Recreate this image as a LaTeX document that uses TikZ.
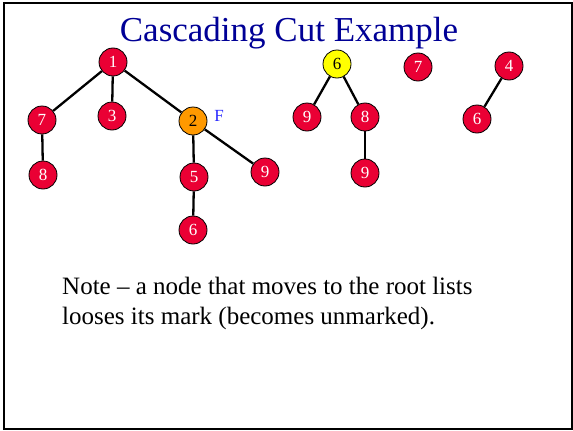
\documentclass[tikz,border=0pt]{standalone}
\usepackage{fontspec}
\setmainfont{Liberation Serif}
\usepackage{tikz}
\usetikzlibrary{positioning}
\usepackage{xcolor}
\definecolor{heapred}{RGB}{234,0,52}
\definecolor{markorange}{RGB}{255,153,0}
\definecolor{minyellow}{RGB}{255,255,0}
\definecolor{titleblue}{RGB}{0,0,150}
\definecolor{markblue}{RGB}{40,40,255}

\tikzset{
  heapnode/.style={circle,draw=black,line width=0.8pt,fill=heapred,text=white,
    minimum size=28pt,inner sep=0pt,font=\fontsize{17}{17}\selectfont},
  marked/.style={heapnode,fill=markorange,text=black},
  minnode/.style={heapnode,fill=minyellow,text=black},
  link/.style={line width=2.3pt,black}
}

\begin{document}
\begin{tikzpicture}[x=1pt,y=-1pt]
        \useasboundingbox (0,0) rectangle (573,431);
        \draw[line width=2pt] (4,3) rectangle (572,429);
        \node[titleblue,font=\fontsize{35}{35}\selectfont] (title) at (289,33) {Cascading Cut Example};
        % first tree
        \node[heapnode] (a1) at (113,62) {1};
        \node[heapnode] (a7) at (42,120) {7};
        \node[heapnode] (a3) at (112,116) {3};
        \node[marked] (a2) at (193,121) {2};
        \node[markblue,font=\fontsize{17}{17}\selectfont] (flag) at (219,116) {F};
        \node[heapnode] (a8) at (43,175) {8};
        \node[heapnode] (a5) at (194,177) {5};
        \node[heapnode] (a9) at (265,172) {9};
        \node[heapnode] (a6) at (193,230) {6};
        \draw[link] (a1)--(a7);
        \draw[link] (a1)--(a3);
        \draw[link] (a1)--(a2);
        \draw[link] (a7)--(a8);
        \draw[link] (a2)--(a5);
        \draw[link] (a2)--(a9);
        \draw[link] (a5)--(a6);
        % second tree, the min
        \node[minnode] (b6) at (337,64) {6};
        \node[heapnode] (b9) at (307,117) {9};
        \node[heapnode] (b8) at (365,117) {8};
        \node[heapnode] (c9) at (365,173) {9};
        \draw[link] (b6)--(b9);
        \draw[link] (b6)--(b8);
        \draw[link] (b8)--(c9);
        % cut nodes
        \node[heapnode] (d7) at (418,67) {7};
        \node[heapnode] (d4) at (509,66) {4};
        \node[heapnode] (d6) at (477,119) {6};
        \draw[link] (d4)--(d6);
        % note
        \node[anchor=north west,align=left,inner sep=0pt,font=\fontsize{25}{30}\selectfont] (note) at (62,277)
          {Note -- a node that moves to the root lists\\looses its mark (becomes unmarked).};
      \end{tikzpicture}
\end{document}
